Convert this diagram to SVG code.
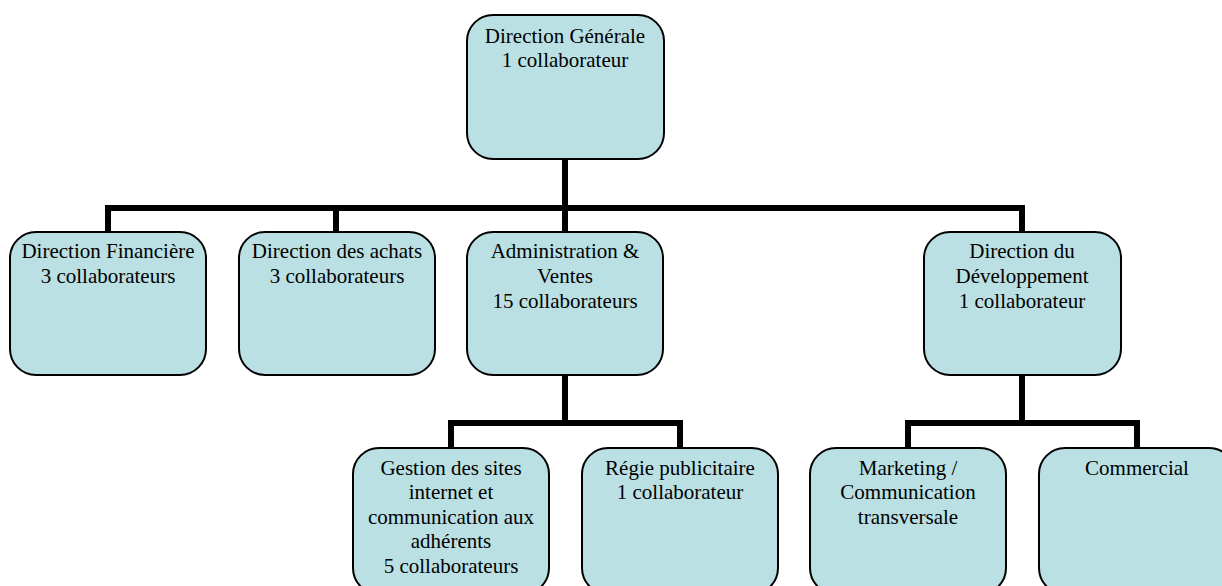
<svg xmlns="http://www.w3.org/2000/svg" width="1222" height="586" viewBox="0 0 1222 586">
<style>
.box{fill:#BAE0E3;stroke:#000;stroke-width:2}
.t{font-family:'Liberation Serif',Tinos,'Times New Roman','DejaVu Serif',serif;font-size:21px;fill:#000;text-anchor:middle}
.c{fill:none;stroke:#000;stroke-width:6;stroke-linejoin:miter;stroke-linecap:butt}
</style>
<rect width="1222" height="586" fill="#fff"/>
<g id="connectors">
<path class="c" d="M565 159V208M108 232V208H1022V232M336 208V232M565 208V232"/>
<path class="c" d="M565 375V423M451 448V423H680V448"/>
<path class="c" d="M1022 375V423M908 448V423H1137V448"/>
</g>
<g id="n-dg"><rect class="box" x="467" y="15" width="197" height="144" rx="26"/>
<text class="t" x="565" y="43">Direction Générale</text><text class="t" x="565" y="67">1 collaborateur</text></g>
<g id="n-fin"><rect class="box" x="10" y="232" width="196" height="143" rx="26"/>
<text class="t" x="108" y="258">Direction Financière</text><text class="t" x="108" y="283">3 collaborateurs</text></g>
<g id="n-achats"><rect class="box" x="239" y="232" width="196" height="143" rx="26"/>
<text class="t" x="337" y="258">Direction des achats</text><text class="t" x="337" y="283">3 collaborateurs</text></g>
<g id="n-admin"><rect class="box" x="467" y="232" width="196" height="143" rx="26"/>
<text class="t" x="565" y="258">Administration &amp;</text><text class="t" x="565" y="283">Ventes</text><text class="t" x="565" y="308">15 collaborateurs</text></g>
<g id="n-dev"><rect class="box" x="924" y="232" width="197" height="143" rx="26"/>
<text class="t" x="1022" y="258">Direction du</text><text class="t" x="1022" y="283">Développement</text><text class="t" x="1022" y="308">1 collaborateur</text></g>
<g id="n-gestion"><rect class="box" x="353" y="448" width="196" height="146" rx="26"/>
<text class="t" x="451" y="475">Gestion des sites</text><text class="t" x="451" y="499">internet et</text><text class="t" x="451" y="524">communication aux</text><text class="t" x="451" y="548">adhérents</text><text class="t" x="451" y="573">5 collaborateurs</text></g>
<g id="n-regie"><rect class="box" x="582" y="448" width="196" height="146" rx="26"/>
<text class="t" x="680" y="475">Régie publicitaire</text><text class="t" x="680" y="499">1 collaborateur</text></g>
<g id="n-marketing"><rect class="box" x="810" y="448" width="196" height="146" rx="26"/>
<text class="t" x="908" y="475">Marketing /</text><text class="t" x="908" y="499">Communication</text><text class="t" x="908" y="524">transversale</text></g>
<g id="n-commercial"><rect class="box" x="1039" y="448" width="196" height="146" rx="26"/>
<text class="t" x="1137" y="475">Commercial</text></g>
</svg>
